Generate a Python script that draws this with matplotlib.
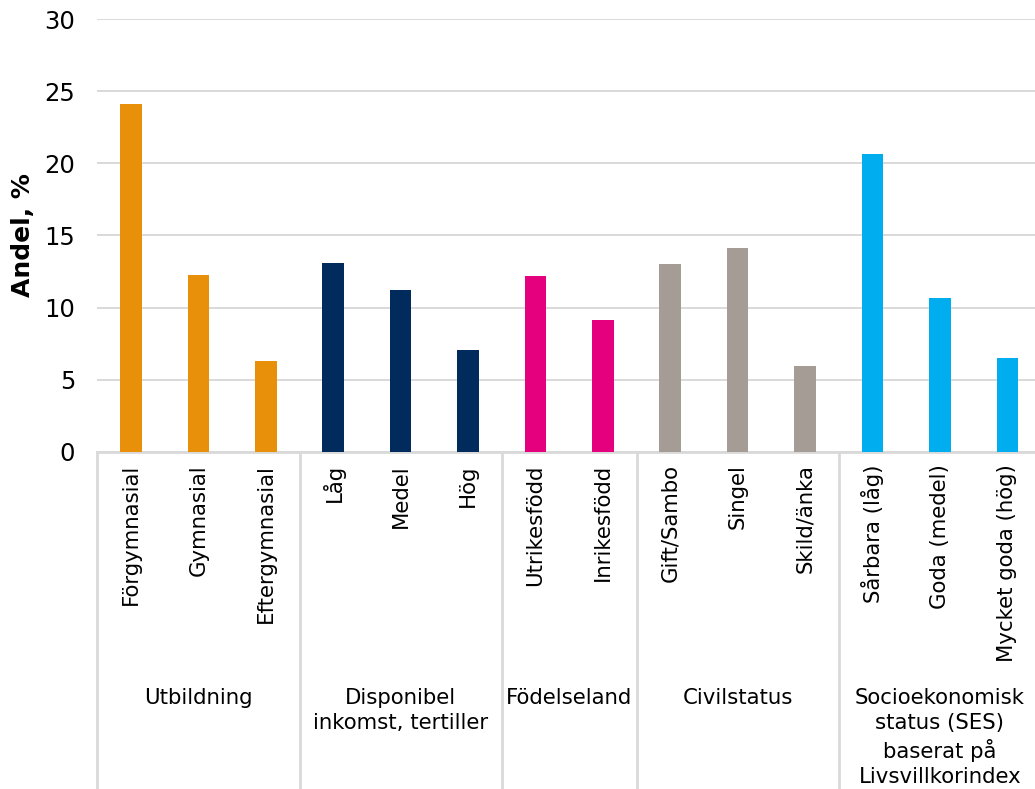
import matplotlib
matplotlib.use('Agg')
import matplotlib.pyplot as plt
import matplotlib.transforms as mtransforms
from matplotlib.lines import Line2D

categories = ['Förgymnasial', 'Gymnasial', 'Eftergymnasial',
              'Låg', 'Medel', 'Hög',
              'Utrikesfödd', 'Inrikesfödd',
              'Gift/Sambo', 'Singel', 'Skild/änka',
              'Sårbara (låg)', 'Goda (medel)', 'Mycket goda (hög)']
values = [24.1, 12.25, 6.3,
          13.1, 11.2, 7.05,
          12.2, 9.15,
          13.0, 14.15, 5.95,
          20.65, 10.65, 6.5]
groups = ['Utbildning', 'Disponibel\ninkomst, tertiller', 'Födelseland',
          'Civilstatus', 'Socioekonomisk\nstatus (SES)\nbaserat på\nLivsvillkorindex']
group_sizes = [3, 3, 2, 3, 3]
group_colors = ['#E8900A', '#002B5C', '#E5007D', '#A59D95', '#00AEEF']

plt.rcParams['font.family'] = ['DejaVu Sans']

fig = plt.figure(figsize=(10.35, 7.89), dpi=100)
ax = fig.add_axes([97.3 / 1035, 1 - 451.7 / 789, (1041 - 97.3) / 1035, (451.7 - 19.3) / 789])

colors = []
for c, n in zip(group_colors, group_sizes):
    colors += [c] * n

x = list(range(len(categories)))
ax.bar(x, values, width=0.32, color=colors, zorder=3)

ax.set_xlim(-0.5, len(categories) - 0.5)
ax.set_ylim(0, 30)
ax.set_yticks([0, 5, 10, 15, 20, 25, 30])
ax.yaxis.grid(True, color='#d9d9d9', linewidth=1.4, zorder=0)
ax.tick_params(axis='y', length=0, pad=16, labelsize=17.5, colors='black')
ax.tick_params(axis='x', length=0, pad=9)
ax.set_xticks(x)
ax.set_xticklabels(categories, rotation=90, fontsize=15.3, va='top', ha='center')

for s in ['top', 'right', 'left']:
    ax.spines[s].set_visible(False)
ax.spines['bottom'].set_color('#d9d9d9')
ax.spines['bottom'].set_linewidth(2)

ax.set_ylabel('Andel, %', fontsize=18, fontweight='bold')
ax.yaxis.set_label_coords(-0.066, 0.5)

# group separators and group labels under the axis
trans = mtransforms.blended_transform_factory(ax.transData, fig.transFigure)
bottom_ax = 1 - 451.7 / 789
start = 0
bounds = [-0.5]
for g, n in zip(groups, group_sizes):
    center = start + (n - 1) / 2
    ax.text(center, 1 - 688 / 789, g, transform=trans, ha='center', va='top',
            fontsize=15.3, linespacing=1.32)
    start += n
    bounds.append(start - 0.5)
for b in bounds:
    fig.add_artist(Line2D([b, b], [0, bottom_ax], transform=trans,
                          color='#d9d9d9', linewidth=2, clip_on=False))

fig.savefig('out.png', dpi=100)
